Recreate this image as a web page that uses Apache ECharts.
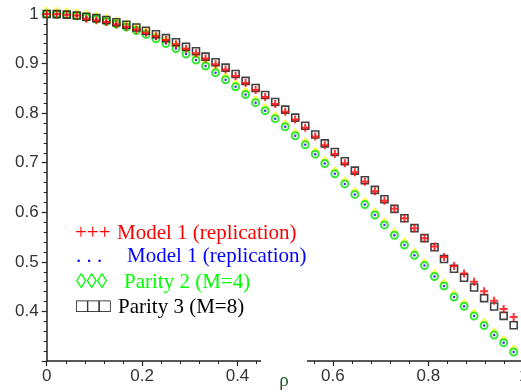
<!DOCTYPE html>
<html>
<head>
<meta charset="utf-8">
<script src="https://cdn.jsdelivr.net/npm/echarts@6/dist/echarts.min.js"></script>
<style>
  html, body { margin: 0; padding: 0; background: #fff; }
  #chart { width: 521px; height: 392px; }
</style>
</head>
<body>
<div id="chart"></div>
<script>
// sampled correlation values rho
const rho = [0, 0.021, 0.042, 0.063, 0.083, 0.104, 0.125, 0.146, 0.167, 0.188,
  0.208, 0.229, 0.25, 0.271, 0.292, 0.313, 0.333, 0.354, 0.375, 0.396,
  0.417, 0.438, 0.458, 0.479, 0.5, 0.521, 0.542, 0.563, 0.583, 0.604,
  0.625, 0.646, 0.667, 0.688, 0.708, 0.729, 0.75, 0.771, 0.792, 0.813,
  0.833, 0.854, 0.875, 0.896, 0.917, 0.938, 0.958, 0.979];

// Model 1 (replication), red crosses
const model1Red = [1, 0.9997, 0.9987, 0.997, 0.9906, 0.9876, 0.9839, 0.9795, 0.9744, 0.9687,
  0.9623, 0.9552, 0.9474, 0.939, 0.93, 0.921, 0.91, 0.8988, 0.8878, 0.875,
  0.861, 0.8468, 0.8327, 0.8186, 0.803, 0.787, 0.7706, 0.753, 0.735, 0.7176,
  0.699, 0.681, 0.6617, 0.6422, 0.6234, 0.6069, 0.5881, 0.568, 0.5478, 0.531,
  0.5097, 0.4915, 0.4765, 0.4597, 0.4408, 0.4217, 0.4049, 0.3888];

// Model 1 (replication), blue dots
const model1Blue = [1, 0.9996, 0.9983, 0.9963, 0.9934, 0.9897, 0.9852, 0.9798, 0.9736, 0.9666,
  0.9588, 0.9501, 0.9406, 0.9303, 0.9194, 0.9073, 0.895, 0.8817, 0.8672, 0.853,
  0.8375, 0.8212, 0.805, 0.7889, 0.7725, 0.7545, 0.736, 0.7172, 0.6985, 0.6775,
  0.6573, 0.636, 0.6155, 0.5945, 0.5746, 0.5537, 0.534, 0.5131, 0.4925, 0.4704,
  0.4513, 0.4291, 0.4104, 0.3908, 0.3717, 0.3522, 0.337, 0.3182];

// Parity 2 (M=4)
const parity2 = [1, 0.9996, 0.9983, 0.9963, 0.9934, 0.9897, 0.9852, 0.9798, 0.9736, 0.9666,
  0.9588, 0.9501, 0.9406, 0.9303, 0.9194, 0.9073, 0.895, 0.8817, 0.8672, 0.853,
  0.8375, 0.8212, 0.805, 0.7889, 0.7725, 0.7545, 0.736, 0.7172, 0.6985, 0.6775,
  0.6573, 0.636, 0.6155, 0.5945, 0.5746, 0.5537, 0.534, 0.5131, 0.4925, 0.4704,
  0.4513, 0.4291, 0.4104, 0.3908, 0.3717, 0.3522, 0.337, 0.3182];

// Parity 3 (M=8)
const parity3 = [1, 0.9997, 0.9987, 0.997, 0.9946, 0.9916, 0.9879, 0.9835, 0.9784, 0.9727,
  0.9663, 0.9592, 0.9514, 0.943, 0.934, 0.925, 0.914, 0.9028, 0.8918, 0.879,
  0.865, 0.8508, 0.8367, 0.8226, 0.807, 0.791, 0.7746, 0.757, 0.739, 0.7216,
  0.703, 0.684, 0.6647, 0.6452, 0.6264, 0.6069, 0.5881, 0.568, 0.5478, 0.5296,
  0.5057, 0.4862, 0.468, 0.4482, 0.4268, 0.41, 0.3911, 0.372];

const yTicks = ['0.4', '0.5', '0.6', '0.7', '0.8', '0.9', '1'];
const xTicks = ['0.2', '0.4', '0.6', '0.8', '1'];

const legendRows = [
  { mark: '+++', name: 'Model 1 (replication)', color: '#ff0000', markSize: 21 },
  { mark: '. . .', name: 'Model 1 (replication)', color: '#0000ff', markSize: 21 },
  { mark: '\u25CA\u25CA\u25CA', name: 'Parity 2 (M=4)', color: '#00ff00', markSize: 21 },
  { mark: '\u25A1\u25A1\u25A1', name: 'Parity 3 (M=8)', color: '#000000', markSize: 19 }
];

const pairs = ys => rho.map((x, i) => [x, ys[i]]);

const axisColor = '#222';
const labelFont = { fontFamily: 'Liberation Sans', fontSize: 17, color: '#333' };

const chart = echarts.init(document.getElementById('chart'), null, { renderer: 'canvas' });

const legendX = [[75, 117], [76, 127], [76, 124], [76, 118]];
const legendY = [233, 256, 282, 307];
const legendGraphics = [];
legendRows.forEach((row, i) => {
  legendGraphics.push({
    type: 'text', x: legendX[i][0], y: legendY[i], z: 100,
    style: { text: row.mark, fill: row.color, font: row.markSize + 'px "Liberation Serif"', textVerticalAlign: 'middle' }
  });
  legendGraphics.push({
    type: 'text', x: legendX[i][1], y: legendY[i], z: 100,
    style: { text: row.name, fill: row.color, font: '21px "Liberation Serif"', textVerticalAlign: 'middle' }
  });
});

chart.setOption({
  backgroundColor: '#ffffff',
  animation: false,
  grid: { left: 46.7, top: 14, width: 477, height: 347, containLabel: false, outerBoundsMode: 'none' },
  xAxis: {
    type: 'value', min: 0, max: 1, interval: 0.2,
    axisLine: { show: true, onZero: false, lineStyle: { color: axisColor, width: 1.5 } },
    axisTick: { show: true, length: 5, lineStyle: { color: axisColor, width: 1.2 } },
    minorTick: { show: true, splitNumber: 5, length: 3, lineStyle: { color: axisColor, width: 1 } },
    splitLine: { show: false },
    axisLabel: Object.assign({
      margin: 7, showMinLabel: true, showMaxLabel: true,
      formatter: v => {
        if (Math.abs(v) < 1e-9) return '0';
        const k = Math.round(v / 0.2) - 1;
        return xTicks[k] !== undefined ? xTicks[k] : '';
      }
    }, labelFont)
  },
  yAxis: {
    type: 'value', min: 0.3, max: 1, interval: 0.1,
    axisLine: { show: true, onZero: false, lineStyle: { color: axisColor, width: 1.5 } },
    axisTick: { show: true, length: 5, lineStyle: { color: axisColor, width: 1.2 } },
    minorTick: { show: true, splitNumber: 5, length: 3, lineStyle: { color: axisColor, width: 1 } },
    splitLine: { show: false },
    axisLabel: Object.assign({
      margin: 8,
      formatter: v => {
        const k = Math.round(v * 10) - 4;
        return yTicks[k] !== undefined ? yTicks[k] : '';
      }
    }, labelFont)
  },
  series: [
    {
      name: 'Parity 2 (M=4) halo', type: 'scatter', data: pairs(parity2),
      symbol: 'diamond', symbolSize: [6, 7], symbolOffset: [0, -3],
      itemStyle: { color: 'rgba(255,255,255,0)', borderColor: '#ffff00', borderWidth: 1.5 }, z: 2
    },
    {
      name: 'Parity 2 (M=4)', type: 'scatter', data: pairs(parity2),
      symbol: 'circle', symbolSize: 7,
      itemStyle: { color: '#ffffff', borderColor: '#00e000', borderWidth: 2 }, z: 3
    },
    {
      name: 'Model 1 (replication) blue', type: 'scatter', data: pairs(model1Blue),
      symbol: 'circle', symbolSize: 2.5,
      itemStyle: { color: '#0000ff' }, z: 4
    },
    {
      name: 'Parity 3 (M=8)', type: 'scatter', data: pairs(parity3),
      symbol: 'rect', symbolSize: 7,
      itemStyle: { color: 'rgba(255,255,255,0)', borderColor: '#111', borderWidth: 1.6 }, z: 5
    },
    {
      name: 'Model 1 (replication)', type: 'scatter', data: pairs(model1Red),
      symbol: 'path://M0,3H8V5H0Z M3,0H5V8H3Z', symbolSize: 8,
      itemStyle: { color: '#ff0000' }, z: 6
    }
  ],
  graphic: [
    // break in the horizontal axis behind the axis title
    { type: 'rect', shape: { x: 261, y: 354, width: 46, height: 12 }, style: { fill: '#ffffff' }, z: 100 },
    {
      type: 'text', x: 284, y: 381, z: 101,
      style: { text: '\u03C1', fill: '#1f5c1f', font: '19px "Liberation Serif"', textAlign: 'center', textVerticalAlign: 'middle' }
    }
  ].concat(legendGraphics)
});
</script>
</body>
</html>
